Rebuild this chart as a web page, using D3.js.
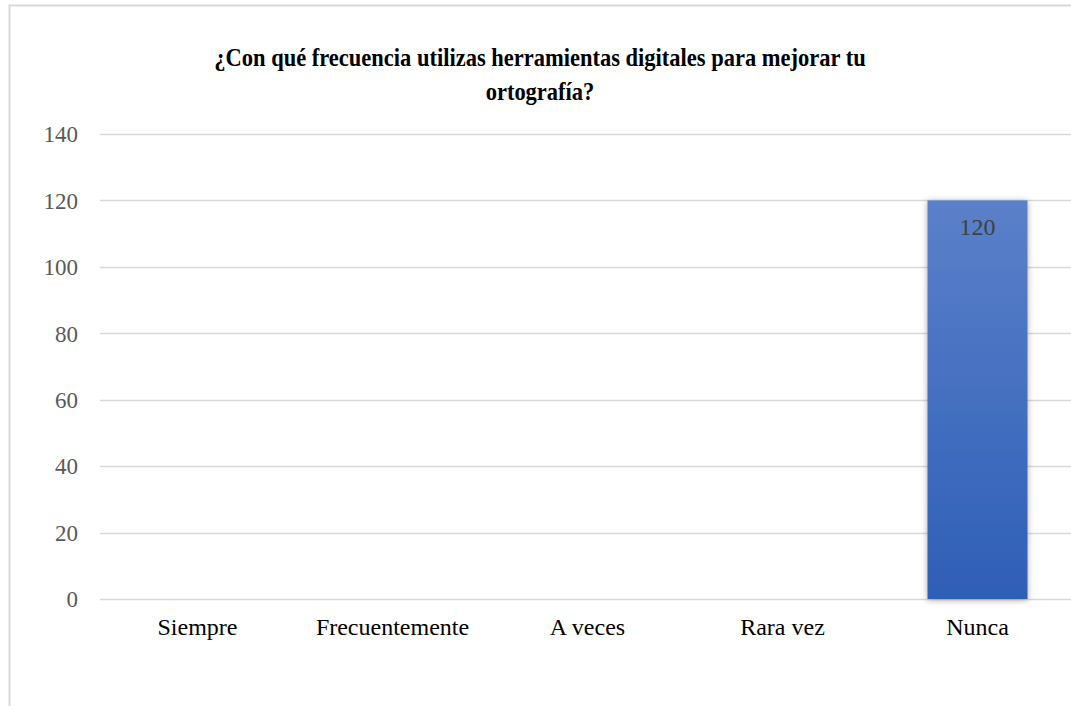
<!DOCTYPE html>
<html>
<head>
<meta charset="utf-8">
<script src="https://cdn.jsdelivr.net/npm/d3@7"></script>
<style>
  html, body { margin: 0; padding: 0; background: #fff; }
  svg { display: block; }
</style>
</head>
<body>
<svg id="chart" width="1071" height="706"></svg>
<script>
// Survey answers and their counts
const categories = ["Siempre", "Frecuentemente", "A veces", "Rara vez", "Nunca"];
const counts = [0, 0, 0, 0, 120];
const yTicks = [0, 20, 40, 60, 80, 100, 120, 140];
const titleLines = ["¿Con qué frecuencia utilizas herramientas digitales para mejorar tu", "ortografía?"];

const svg = d3.select("#chart");
const W = 1071, H = 706;
const margin = { left: 100, right: -4 };
const serif = "'Liberation Serif', 'Times New Roman', 'DejaVu Serif', serif";

const defs = svg.append("defs");
const grad = defs.append("linearGradient")
  .attr("id", "barGrad").attr("x1", 0).attr("y1", 0).attr("x2", 0).attr("y2", 1);
grad.append("stop").attr("offset", "0%").attr("stop-color", "#5b80c9");
grad.append("stop").attr("offset", "100%").attr("stop-color", "#2e5fb7");
const shadow = defs.append("filter").attr("id", "barShadow")
  .attr("x", "-20%").attr("y", "-10%").attr("width", "140%").attr("height", "120%");
shadow.append("feDropShadow").attr("dx", 0).attr("dy", 1).attr("stdDeviation", 3)
  .attr("flood-color", "#000").attr("flood-opacity", 0.35);

// Chart frame (only top and left edges fall inside the page)
svg.append("line").attr("x1", 9).attr("x2", W).attr("y1", 5.5).attr("y2", 5.5)
  .attr("stroke", "#d9d9d9").attr("stroke-width", 2);
svg.append("line").attr("x1", 9.5).attr("x2", 9.5).attr("y1", 5).attr("y2", H)
  .attr("stroke", "#d9d9d9").attr("stroke-width", 2);

const x = d3.scaleBand().domain(categories)
  .range([margin.left, W - margin.right]).paddingInner(0.487).paddingOuter(0.2435);
const y = d3.scaleLinear().domain([0, 140]).range([599, 134]);

// Gridlines
svg.append("g").selectAll("line").data(yTicks).join("line")
  .attr("x1", margin.left).attr("x2", W)
  .attr("y1", d => Math.round(y(d)) + 0.5).attr("y2", d => Math.round(y(d)) + 0.5)
  .attr("stroke", "#d9d9d9").attr("stroke-width", 1.3);

// Y axis labels
const yAxis = d3.axisLeft(y).tickValues(yTicks).tickSize(0).tickPadding(0);
const gy = svg.append("g").attr("transform", "translate(78,0)").call(yAxis);
gy.select(".domain").remove();
gy.selectAll("text")
  .style("font-family", serif)
  .attr("font-size", 23).attr("fill", "#595959").attr("dy", "0.34em");

// Bars
const data = categories.map((c, i) => ({ c, v: counts[i] }));
svg.append("g").selectAll("rect").data(data.filter(d => d.v > 0)).join("rect")
  .attr("x", d => x(d.c)).attr("width", x.bandwidth())
  .attr("y", d => y(d.v)).attr("height", d => y(0) - y(d.v))
  .attr("fill", "url(#barGrad)").attr("filter", "url(#barShadow)");

// Value labels inside the top of each bar
svg.append("g").selectAll("text").data(data.filter(d => d.v > 0)).join("text")
  .attr("x", d => x(d.c) + x.bandwidth() / 2).attr("y", d => y(d.v) + 35)
  .attr("text-anchor", "middle")
  .style("font-family", serif)
  .attr("font-size", 24).attr("fill", "#404040")
  .text(d => d.v);

// Category axis labels
const xAxis = d3.axisBottom(x).tickSize(0).tickPadding(0);
const gx = svg.append("g").attr("transform", "translate(0,599)").call(xAxis);
gx.select(".domain").remove();
gx.selectAll("text")
  .style("font-family", serif)
  .attr("font-size", 24).attr("fill", "#000").attr("dy", "1.5em");

// Title, slightly condensed
const titleX = 540;
const title = svg.append("g");
const tl = title.selectAll("text").data(titleLines).join("text")
  .attr("x", 0).attr("y", (d, i) => 66 + i * 34)
  .attr("text-anchor", "middle")
  .style("font-family", serif)
  .attr("font-size", 26).attr("font-weight", "bold").attr("fill", "#000")
  .text(d => d);
const natural = tl.nodes()[0].getComputedTextLength();
const sx = 652 / natural;
title.attr("transform", `translate(${titleX},0) scale(${sx},1)`);
</script>
</body>
</html>
